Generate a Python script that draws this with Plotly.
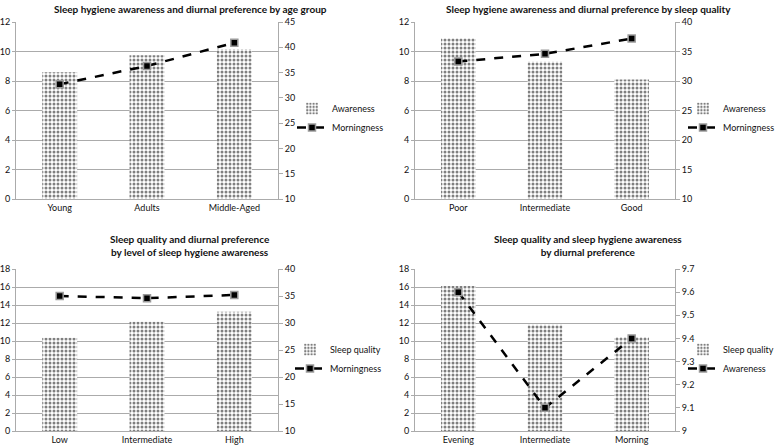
import plotly.graph_objects as go

# ---- data ----
p1_cats = ["Young", "Adults", "Middle-Aged"]
p1_awareness = [8.6, 9.75, 10.15]
p1_morningness = [32.7, 36.3, 40.9]

p2_cats = ["Poor", "Intermediate", "Good"]
p2_awareness = [10.9, 9.3, 8.1]
p2_morningness = [33.3, 34.6, 37.2]

p3_cats = ["Low", "Intermediate", "High"]
p3_sleep_quality = [10.35, 12.15, 13.25]
p3_morningness = [35.0, 34.6, 35.2]

p4_cats = ["Evening", "Intermediate", "Morning"]
p4_sleep_quality = [16.1, 11.8, 10.45]
p4_awareness = [9.6, 9.1, 9.4]

titles = [
    "Sleep hygiene awareness and diurnal preference by age group",
    "Sleep hygiene awareness and diurnal preference by sleep quality",
    "Sleep quality and diurnal preference<br>by level of sleep hygiene awareness",
    "Sleep quality and sleep hygiene awareness<br>by diurnal preference",
]

W, H = 778, 448
FONT = "Lato, 'Open Sans', sans-serif"
TXT = "#111"

def fx(px):
    return px / W

def fy(py):
    return 1 - py / H

def ticks(lo, hi, st):
    n = int(round((hi - lo) / st))
    vals = [round(lo + k * st, 3) for k in range(n + 1)]
    return vals, [f"{v:g}" for v in vals]

panels = [
    dict(cats=p1_cats, bar=p1_awareness, bar_name="Awareness", line=p1_morningness, line_name="Morningness",
         x=(16, 278), y=(22, 199), left=(0, 12, 2), right=(10, 45, 5), title_y=1, title_x=190, leg=(292, 94)),
    dict(cats=p2_cats, bar=p2_awareness, bar_name="Awareness", line=p2_morningness, line_name="Morningness",
         x=(415, 675), y=(22, 199), left=(0, 12, 2), right=(10, 40, 5), title_y=1, title_x=588, leg=(683, 94)),
    dict(cats=p3_cats, bar=p3_sleep_quality, bar_name="Sleep quality", line=p3_morningness, line_name="Morningness",
         x=(16, 278), y=(269, 431), left=(0, 18, 2), right=(10, 40, 5), title_y=231, title_x=190, leg=(290, 335)),
    dict(cats=p4_cats, bar=p4_sleep_quality, bar_name="Sleep quality", line=p4_awareness, line_name="Awareness",
         x=(415, 675), y=(269, 431), left=(0, 18, 2), right=(9, 9.7, 0.1), title_y=231, title_x=588, leg=(683, 335)),
]

fig = go.Figure()
layout = dict(
    width=W, height=H, margin=dict(l=0, r=0, t=0, b=0, autoexpand=False),
    paper_bgcolor="white", plot_bgcolor="white",
    font=dict(family=FONT, size=9, color=TXT),
    annotations=[],
)

grid = "#ababab"
for i, p in enumerate(panels):
    n = i + 1
    xref = "x" if n == 1 else f"x{n}"
    yl = 2 * n - 1
    yr = 2 * n
    ylref = "y" if yl == 1 else f"y{yl}"
    yrref = f"y{yr}"
    legname = "legend" if n == 1 else f"legend{n}"

    fig.add_trace(go.Bar(
        x=p["cats"], y=p["bar"], name=p["bar_name"], xaxis=xref, yaxis=ylref, width=0.4,
        marker=dict(color="white", line=dict(width=0),
                    pattern=dict(shape=".", fgcolor="black", bgcolor="white", size=4, solidity=0.45)),
        legend=legname,
    ))
    fig.add_trace(go.Scatter(
        x=p["cats"], y=p["line"], name=p["line_name"], xaxis=xref, yaxis=yrref, mode="lines+markers",
        line=dict(color="black", width=2.5, dash="dash"),
        marker=dict(symbol="square", size=7, color="black", line=dict(color="#9a9a9a", width=1.5)),
        legend=legname,
    ))

    xa = "xaxis" if n == 1 else f"xaxis{n}"
    yla = "yaxis" if yl == 1 else f"yaxis{yl}"
    yra = f"yaxis{yr}"
    layout[xa] = dict(domain=[fx(p["x"][0]), fx(p["x"][1])], anchor=ylref, type="category",
                      showline=True, linecolor=grid, linewidth=1, ticks="", showgrid=False,
                      tickfont=dict(size=9, family=FONT, color=TXT), fixedrange=True)
    lo, hi, st = p["left"]
    tv, tt = ticks(lo, hi, st)
    layout[yla] = dict(domain=[fy(p["y"][1]), fy(p["y"][0])], anchor=xref, range=[lo, hi],
                       tickvals=tv, ticktext=tt,
                       showline=True, linecolor=grid, linewidth=1, showgrid=True, gridcolor=grid,
                       gridwidth=1, zeroline=False, ticks="outside", ticklen=3, tickcolor=grid,
                       tickfont=dict(size=9, family=FONT, color=TXT))
    lo, hi, st = p["right"]
    tv, tt = ticks(lo, hi, st)
    layout[yra] = dict(overlaying=ylref, side="right", anchor=xref, range=[lo, hi],
                       tickvals=tv, ticktext=tt,
                       showline=True, linecolor=grid, linewidth=1, showgrid=False, zeroline=False,
                       ticks="outside", ticklen=4, tickcolor=grid,
                       tickfont=dict(size=9, family=FONT, color=TXT))
    layout[legname] = dict(x=fx(p["leg"][0]), y=fy(p["leg"][1]), xanchor="left", yanchor="top",
                           bgcolor="rgba(0,0,0,0)", font=dict(size=9, family=FONT, color=TXT),
                           tracegroupgap=0, borderwidth=0)
    layout["annotations"].append(dict(
        text=f"<b>{titles[i]}</b>", x=fx(p["title_x"]), y=fy(p["title_y"]), xref="paper", yref="paper",
        xanchor="center", yanchor="top", showarrow=False,
        font=dict(size=10, family=FONT, color=TXT),
    ))

fig.update_layout(**layout)
fig.write_html("out.html", config={"displayModeBar": False},
               post_script="document.body.style.margin='0px';")
